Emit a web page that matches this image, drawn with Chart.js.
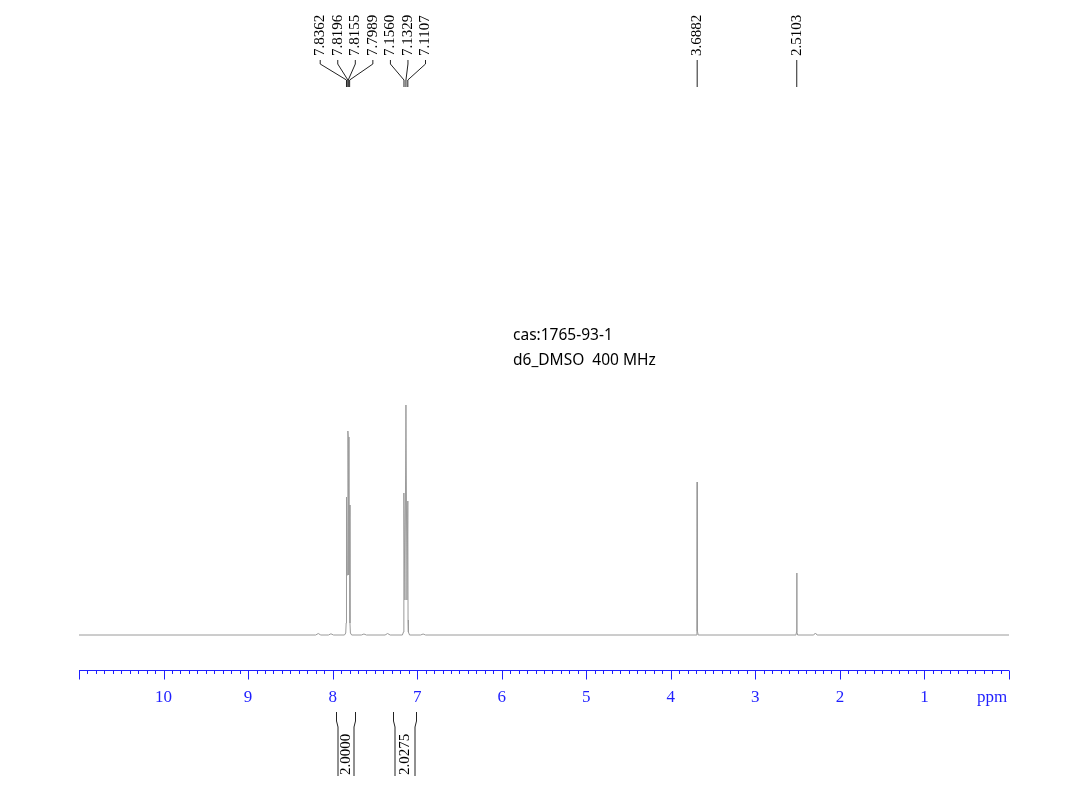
<!DOCTYPE html>
<html>
<head>
<meta charset="utf-8">
<script src="https://cdn.jsdelivr.net/npm/chart.js@4/dist/chart.umd.min.js"></script>
<style>
  html, body { margin: 0; padding: 0; background: #fff; }
  canvas { display: block; }
</style>
</head>
<body>
<canvas id="nmrChart" width="1087" height="793"></canvas>
<script>
// spectrum trace (ppm, intensity above baseline)
const spectrumPpm = [
  11.0, 8.20, 8.17, 8.14, 8.05, 8.02, 7.99,
  7.860, 7.845, 7.840, 7.8362, 7.828, 7.8196, 7.8155, 7.807, 7.7989, 7.795, 7.790, 7.775,
  7.66, 7.63, 7.60, 7.38, 7.35, 7.32,
  7.175, 7.162, 7.159, 7.1560, 7.145, 7.1329, 7.121, 7.1107, 7.108, 7.104, 7.090,
  6.96, 6.93, 6.90,
  3.700, 3.691, 3.6882, 3.686, 3.676,
  2.520, 2.513, 2.5103, 2.508, 2.500,
  2.31, 2.29, 2.27,
  0.0
];
const spectrumInt = [
  0, 0, 1.5, 0, 0, 1.2, 0,
  0, 2, 12, 138, 60, 204, 198, 60, 130, 12, 2, 0,
  0, 1, 0, 0, 1.5, 0,
  0, 3, 15, 142, 35, 230, 35, 134, 15, 3, 0,
  0, 1, 0,
  0, 4, 153, 4, 0,
  0, 3, 62, 3, 0,
  0, 2, 0,
  0
];

// peak picking labels
const peakLabels = ["7.8362", "7.8196", "7.8155", "7.7989", "7.1560", "7.1329", "7.1107", "3.6882", "2.5103"];

// integrals
const integralFrom = [7.963, 7.282];
const integralTo = [7.731, 7.010];
const integralValues = ["2.0000", "2.0275"];

// axis ticks
const axisLabels = [1, 2, 3, 4, 5, 6, 7, 8, 9, 10];

const infoLines = ["cas:1765-93-1", "d6_DMSO  400 MHz"];

const AXIS_BLUE = "#1f1fff";

const nmrPlugin = {
  id: "nmrDecor",
  afterDraw(chart) {
    const ctx = chart.ctx;
    const xs = chart.scales.x;
    const area = chart.chartArea;
    const axisY = area.bottom + 0.5;

    ctx.save();

    // ---- ppm axis ----
    ctx.strokeStyle = AXIS_BLUE;
    ctx.lineWidth = 1;
    ctx.beginPath();
    ctx.moveTo(xs.getPixelForValue(11), axisY);
    ctx.lineTo(xs.getPixelForValue(0), axisY);
    for (let i = 0; i <= 110; i++) {
      const v = i / 10;
      const x = Math.round(xs.getPixelForValue(v)) + 0.5;
      const len = i % 10 === 0 ? 9 : 3.5;
      ctx.moveTo(x, axisY);
      ctx.lineTo(x, axisY + len);
    }
    ctx.stroke();

    ctx.fillStyle = AXIS_BLUE;
    ctx.font = "17px 'Liberation Serif', 'Times New Roman', serif";
    ctx.textAlign = "center";
    ctx.textBaseline = "alphabetic";
    axisLabels.forEach(v => {
      ctx.fillText(String(v), xs.getPixelForValue(v), axisY + 31);
    });
    ctx.fillText("ppm", xs.getPixelForValue(0) - 17, axisY + 31);

    // ---- peak labels (clustered to avoid overlap) ----
    const spacing = 17.55;
    const peaks = peakLabels.map(t => ({ text: t, px: xs.getPixelForValue(parseFloat(t)) }))
      .sort((a, b) => a.px - b.px);
    let clusters = peaks.map(p => ({ items: [p], center: p.px }));
    let merged = true;
    while (merged) {
      merged = false;
      for (let i = 0; i < clusters.length - 1; i++) {
        const a = clusters[i], b = clusters[i + 1];
        const aRight = a.center + (a.items.length - 1) * spacing / 2;
        const bLeft = b.center - (b.items.length - 1) * spacing / 2;
        if (bLeft - aRight < spacing) {
          const items = a.items.concat(b.items);
          const center = items.reduce((s, p) => s + p.px, 0) / items.length;
          clusters.splice(i, 2, { items, center });
          merged = true;
          break;
        }
      }
    }
    ctx.strokeStyle = "#222";
    ctx.fillStyle = "#000";
    ctx.font = "15px 'Liberation Serif', 'Times New Roman', serif";
    clusters.forEach(c => {
      c.items.forEach((p, k) => {
        const lx = c.center + (k - (c.items.length - 1) / 2) * spacing;
        ctx.save();
        ctx.translate(lx, 56);
        ctx.rotate(-Math.PI / 2);
        ctx.textAlign = "left";
        ctx.textBaseline = "middle";
        ctx.fillText(p.text, 0, 0);
        ctx.restore();
        ctx.beginPath();
        ctx.moveTo(lx, 60);
        ctx.lineTo(lx, 64);
        ctx.lineTo(p.px, 80);
        ctx.lineTo(p.px, 87);
        ctx.stroke();
      });
    });

    // ---- integrals ----
    integralFrom.forEach((from, i) => {
      const x1 = Math.round(xs.getPixelForValue(from)) + 0.5;
      const x2 = Math.round(xs.getPixelForValue(integralTo[i])) + 0.5;
      ctx.strokeStyle = "#222";
      ctx.beginPath();
      ctx.moveTo(x1, 712);
      ctx.lineTo(x1, 721);
      ctx.lineTo(x1 + 1.5, 727);
      ctx.lineTo(x1 + 1.5, 776);
      ctx.moveTo(x2, 712);
      ctx.lineTo(x2, 721);
      ctx.lineTo(x2 - 1.5, 727);
      ctx.lineTo(x2 - 1.5, 776);
      ctx.stroke();
      ctx.save();
      ctx.translate((x1 + x2) / 2, 775);
      ctx.rotate(-Math.PI / 2);
      ctx.textAlign = "left";
      ctx.textBaseline = "middle";
      ctx.fillStyle = "#000";
      ctx.font = "15px 'Liberation Serif', 'Times New Roman', serif";
      ctx.fillText(integralValues[i], 0, 0);
      ctx.restore();
    });

    // ---- sample info ----
    ctx.fillStyle = "#000";
    ctx.font = "15.5px 'Noto Sans', sans-serif";
    ctx.textAlign = "left";
    ctx.textBaseline = "alphabetic";
    infoLines.forEach((t, i) => ctx.fillText(t, 513, 340 + i * 25));

    ctx.restore();
  }
};

const points = spectrumPpm.map((p, i) => ({ x: p, y: spectrumInt[i] }));

new Chart(document.getElementById("nmrChart").getContext("2d"), {
  type: "scatter",
  data: {
    datasets: [{
      data: points,
      showLine: true,
      borderColor: "#9a9a9a",
      borderWidth: 1,
      pointRadius: 0,
      tension: 0,
    }],
  },
  options: {
    responsive: false,
    animation: false,
    layout: { padding: { left: 79, right: 78, top: 100, bottom: 123 } },
    plugins: { legend: { display: false }, tooltip: { enabled: false } },
    scales: {
      x: { type: "linear", min: 0, max: 11, reverse: true, display: false },
      y: { min: -35, max: 535, display: false },
    },
  },
  plugins: [nmrPlugin],
});
</script>
</body>
</html>
